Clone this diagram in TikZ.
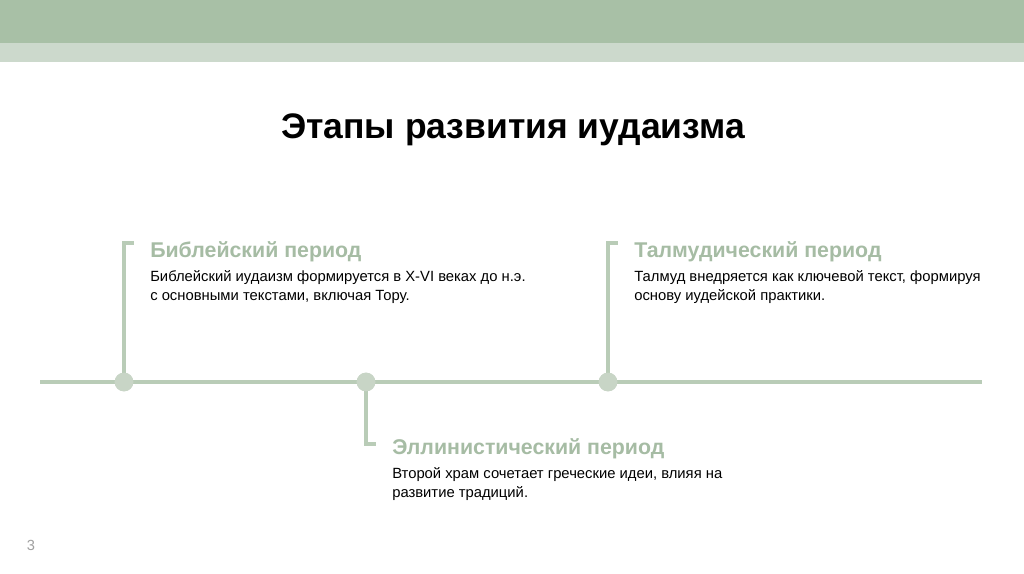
\documentclass[tikz,border=0pt]{standalone}
\usepackage{fontspec}
\setmainfont{Liberation Sans}
\definecolor{banddark}{HTML}{A8C0A6}
\definecolor{bandlight}{HTML}{CCD9CC}
\definecolor{lineg}{HTML}{B9CCB7}
\definecolor{dotg}{HTML}{C8D5C6}
\definecolor{headg}{HTML}{A6BCA4}
\definecolor{numg}{HTML}{A0A0A0}
\begin{document}
\begin{tikzpicture}[x=0.75pt,y=-0.75pt,
  conn/.style={draw=lineg,line width=3pt},
  dot/.style={circle,fill=dotg,minimum size=14pt,inner sep=0pt},
  head/.style={anchor=base west,inner sep=0pt,text=headg,font=\fontsize{16}{18}\selectfont\bfseries},
  body/.style={anchor=base west,inner sep=0pt,align=left,font=\fontsize{11.1}{14}\selectfont},
]
\useasboundingbox (0,0) rectangle (1024,574);
\fill[white] (0,0) rectangle (1024,574);
\fill[banddark] (0,0) rectangle (1024,43);
\fill[bandlight] (0,43) rectangle (1024,62);
\node[inner sep=0pt,anchor=base,font=\fontsize{26.6}{30}\selectfont\bfseries] (title) at (513,139) {Этапы развития иудаизма};
% timeline
\coordinate (L) at (40,382);
\coordinate (R) at (982,382);
\draw[conn] (L) -- (R);
\coordinate (t1) at (124,243);
\coordinate (t1b) at (134,243);
\coordinate (t3) at (608,243);
\coordinate (t3b) at (618,243);
\coordinate (t2) at (366,444);
\coordinate (t2b) at (376,444);
\node[dot] (d1) at (124,382) {};
\node[dot] (d2) at (366,382) {};
\node[dot] (d3) at (608,382) {};
\draw[conn,line join=miter] (d1.center) -- (t1) -- (t1b);
\draw[conn,line join=miter] (d3.center) -- (t3) -- (t3b);
\draw[conn,line join=miter] (d2.center) -- (t2) -- (t2b);
\node[dot] at (d1) {};
\node[dot] at (d2) {};
\node[dot] at (d3) {};
% texts
\node[head] (h1) at (150,257.5) {Библейский период};
\node[body] (b1) at (150,300.5) {Библейский иудаизм формируется в X-VI веках до н.э.\\с основными текстами, включая Тору.};
\node[head] (h3) at (634,257.5) {Талмудический период};
\node[body] (b3) at (634,300.5) {Талмуд внедряется как ключевой текст, формируя\\основу иудейской практики.};
\node[head] (h2) at (392,454) {Эллинистический период};
\node[body] (b2) at (392,497) {Второй храм сочетает греческие идеи, влияя на\\развитие традиций.};
\node[anchor=base,inner sep=0pt,text=numg,font=\fontsize{11}{12}\selectfont] (num) at (31,550) {3};
\end{tikzpicture}
\end{document}
